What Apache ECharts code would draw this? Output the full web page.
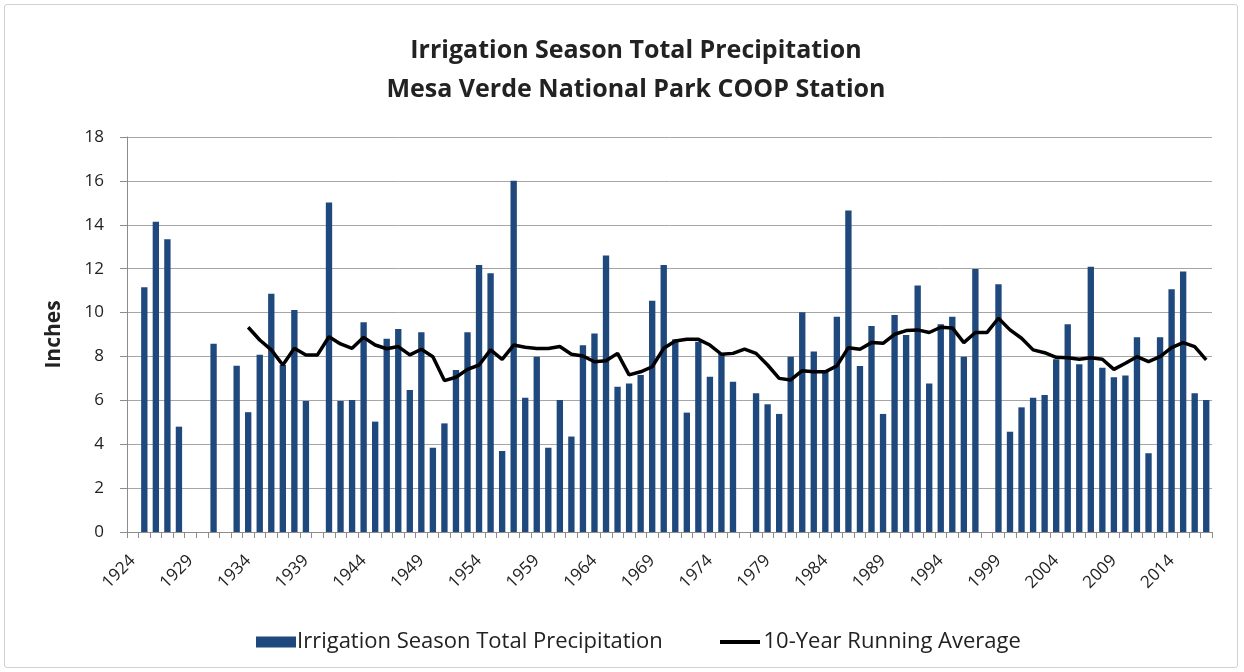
<!DOCTYPE html>
<html>
<head>
<meta charset="utf-8">
<script src="https://cdn.jsdelivr.net/npm/echarts@6/dist/echarts.min.js"></script>
<style>
html,body{margin:0;padding:0;background:#fff;}
#frame{position:absolute;left:4px;top:4px;width:1232px;height:662px;border:1px solid #d0d0d0;border-radius:3px;}
#chart{position:absolute;left:0;top:0;width:1244px;height:672px;}
</style>
</head>
<body>
<div id="frame"></div>
<div id="chart"></div>
<script>
const years = [1924,1925,1926,1927,1928,1929,1930,1931,1932,1933,1934,1935,1936,1937,1938,1939,1940,1941,1942,1943,1944,1945,1946,1947,1948,1949,1950,1951,1952,1953,1954,1955,1956,1957,1958,1959,1960,1961,1962,1963,1964,1965,1966,1967,1968,1969,1970,1971,1972,1973,1974,1975,1976,1977,1978,1979,1980,1981,1982,1983,1984,1985,1986,1987,1988,1989,1990,1991,1992,1993,1994,1995,1996,1997,1998,1999,2000,2001,2002,2003,2004,2005,2006,2007,2008,2009,2010,2011,2012,2013,2014,2015,2016,2017];

const precipitation = [null,11.15,14.14,13.34,4.8,null,null,8.58,null,7.58,
  5.46,8.08,10.86,7.61,10.12,5.97,null,15.01,5.97,6.02,
  9.56,5.03,8.81,9.25,6.47,9.1,3.84,4.95,7.38,9.1,
  12.17,11.79,3.69,16.01,6.12,7.99,3.84,6.02,4.35,8.51,
  9.04,12.6,6.62,6.77,7.16,10.54,12.17,8.78,5.44,8.67,
  7.08,8.14,6.85,null,6.32,5.82,5.38,7.99,10.01,8.22,
  7.38,9.81,14.65,7.57,9.39,5.38,9.89,8.98,11.23,6.77,
  9.47,9.81,7.99,11.99,null,11.29,4.57,5.68,6.12,6.24,
  7.87,9.47,7.64,12.09,7.49,7.05,7.13,8.87,3.59,8.87,
  11.06,11.87,6.32,6.02];

const runningAverage = [null,null,null,null,null,null,null,null,null,null,
  9.33,8.75,8.3,7.61,8.37,8.07,8.07,8.9,8.57,8.37,
  8.87,8.52,8.35,8.45,8.07,8.33,7.99,6.9,7.05,7.41,
  7.61,8.3,7.87,8.52,8.42,8.36,8.36,8.45,8.1,8.02,
  7.76,7.8,8.14,7.16,7.3,7.53,8.37,8.7,8.78,8.78,
  8.52,8.1,8.14,8.33,8.14,7.61,7.0,6.93,7.35,7.3,
  7.3,7.57,8.4,8.33,8.63,8.6,9.01,9.18,9.21,9.09,
  9.33,9.3,8.63,9.09,9.09,9.74,9.21,8.83,8.3,8.17,
  7.96,7.94,7.87,7.94,7.87,7.41,7.69,7.99,7.76,7.99,
  8.4,8.63,8.45,7.84];

const yTicks = {min:0, max:18, interval:2};
const FONT = 'Open Sans';

const chart = echarts.init(document.getElementById('chart'));
chart.setOption({
  animation:false,
  textStyle:{fontFamily:FONT},
  title:{
    text:'Irrigation Season Total Precipitation\nMesa Verde National Park COOP Station',
    left:631, textAlign:'center', top:26,
    textStyle:{fontFamily:FONT,fontSize:25,fontWeight:'bold',color:'#222',lineHeight:39}
  },
  legend:[{
    data:[{name:'Irrigation Season Total Precipitation', icon:'rect'}],
    left:251, top:626, itemWidth:40, itemHeight:11, itemGap:4,
    textStyle:{fontFamily:FONT,fontSize:22,color:'#222',padding:[0,0,0,-4]}
  },{
    data:[{name:'10-Year Running Average', icon:'path://M0,0 L10,0 L10,1 L0,1 Z'}],
    left:715, top:626, itemWidth:45, itemHeight:4, itemGap:4,
    textStyle:{fontFamily:FONT,fontSize:22,color:'#222',padding:[0,0,0,-4]}
  }],
  grid:{left:127, right:32, top:137, bottom:140, containLabel:false},
  xAxis:{
    type:'category', data:years, boundaryGap:true,
    axisLine:{lineStyle:{color:'#8c8c8c',width:1}},
    axisTick:{show:true,interval:0,length:6,lineStyle:{color:'#8c8c8c'}},
    axisLabel:{interval:4,rotate:45,fontFamily:FONT,fontSize:17,color:'#222',margin:26}
  },
  yAxis:{
    type:'value', min:yTicks.min, max:yTicks.max, interval:yTicks.interval,
    name:'Inches', nameLocation:'middle', nameRotate:90, nameGap:62,
    nameTextStyle:{fontFamily:FONT,fontSize:21,fontWeight:'bold',color:'#222'},
    axisLine:{show:true,lineStyle:{color:'#8c8c8c'}},
    axisTick:{show:true,length:7,lineStyle:{color:'#8c8c8c'}},
    axisLabel:{fontFamily:FONT,fontSize:17,color:'#222',margin:23},
    splitLine:{lineStyle:{color:'#a6a6a6',width:1}}
  },
  series:[{
    name:'Irrigation Season Total Precipitation', type:'bar', data:precipitation,
    barWidth:'55%', itemStyle:{color:'#1F497D'}
  },{
    name:'10-Year Running Average', type:'line', data:runningAverage,
    showSymbol:false, symbol:'none', connectNulls:false,
    lineStyle:{color:'#000',width:3.5}, itemStyle:{color:'#000'}
  }]
});
</script>
</body>
</html>
